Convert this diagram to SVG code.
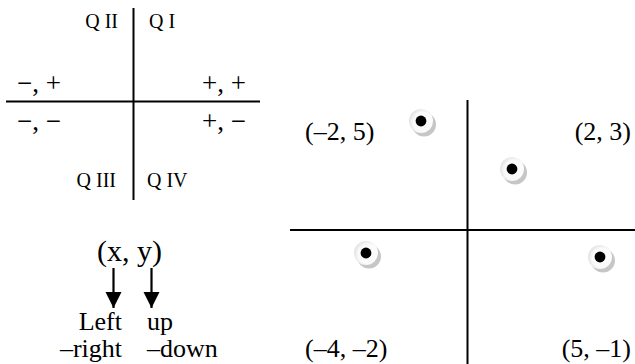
<svg xmlns="http://www.w3.org/2000/svg" width="635" height="364" viewBox="0 0 635 364">
<defs>
<style>
text{font-family:"Liberation Serif","Times New Roman",serif;fill:#000}
.q{font-size:20px}
.s{font-size:26px}
.p{font-size:27px}
.b{font-size:30px}
.ax{stroke:#000;stroke-width:2;fill:none}
.sh{fill:#c6c6c6}
.wd{fill:url(#g)}
.bd{fill:#000}
</style>
<radialGradient id="g" cx="0.6" cy="0.55" r="0.6">
<stop offset="0" stop-color="#ffffff"/>
<stop offset="0.7" stop-color="#fafafa"/>
<stop offset="1" stop-color="#e2e2e2"/>
</radialGradient>
<marker id="ah" viewBox="0 0 10 10" refX="10" refY="5" markerWidth="7.5" markerHeight="7.5" markerUnits="strokeWidth" orient="auto">
<path d="M0,0 L10,5 L0,10 z" fill="#000"/>
</marker>
<g id="dot">
<circle class="sh" cx="3" cy="3.5" r="12"/>
<circle class="wd" cx="0" cy="0" r="12"/>
<circle class="bd" cx="0" cy="0" r="5.4"/>
</g>
</defs>

<g id="quadrant-chart">
<line class="ax" x1="133.5" y1="8" x2="133.5" y2="200"/>
<line class="ax" x1="6" y1="101.5" x2="260" y2="101.5"/>
<text class="q" x="118" y="28" text-anchor="end">Q II</text>
<text class="q" x="149" y="28">Q I</text>
<text class="q" x="116" y="187" text-anchor="end">Q III</text>
<text class="q" x="147" y="187">Q IV</text>
<text class="p" x="17" y="92">−, +</text>
<text class="p" x="246" y="92" text-anchor="end">+, +</text>
<text class="p" x="17" y="130">−, −</text>
<text class="p" x="246" y="130" text-anchor="end">+, −</text>
</g>

<g id="xy-legend">
<text class="b" x="129.5" y="261" text-anchor="middle">(x, y)</text>
<text class="s" x="122" y="330" text-anchor="end">Left</text>
<text class="s" x="147" y="330">up</text>
<text class="s" x="122" y="357" text-anchor="end">–right</text>
<text class="s" x="147" y="357">–down</text>
</g>

<g id="connectors">
<line x1="113.5" y1="268" x2="113.5" y2="308" stroke="#000" stroke-width="2.2" marker-end="url(#ah)"/>
<line x1="151.5" y1="268" x2="151.5" y2="308" stroke="#000" stroke-width="2.2" marker-end="url(#ah)"/>
</g>

<g id="plot">
<line class="ax" x1="467.5" y1="100" x2="467.5" y2="364"/>
<line class="ax" x1="290" y1="230" x2="635" y2="230"/>
</g>

<g id="point-m2-5">
<use href="#dot" x="421" y="121"/>
<text class="s" x="305" y="140">(–2, 5)</text>
</g>
<g id="point-2-3">
<use href="#dot" x="512" y="169"/>
<text class="s" x="631" y="140" text-anchor="end">(2, 3)</text>
</g>
<g id="point-m4-m2">
<use href="#dot" x="366" y="253"/>
<text class="s" x="305" y="357">(–4, –2)</text>
</g>
<g id="point-5-m1">
<use href="#dot" x="600" y="257"/>
<text class="s" x="631" y="357" text-anchor="end">(5, –1)</text>
</g>
</svg>
